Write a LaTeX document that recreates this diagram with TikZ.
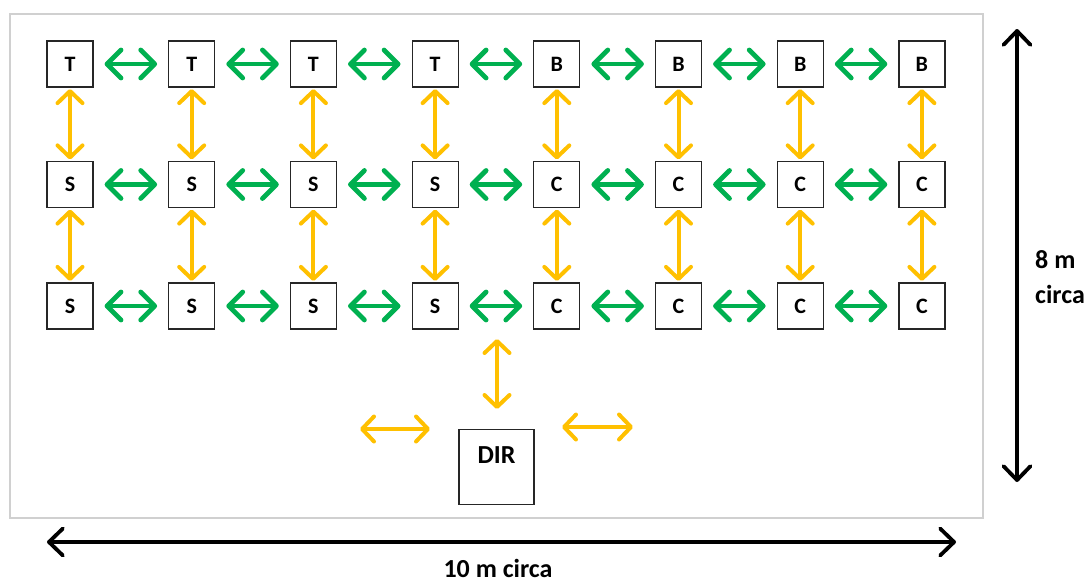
\documentclass[tikz,border=0pt]{standalone}
\usepackage{fontspec}
\setmainfont{Carlito}
\usetikzlibrary{arrows.meta}

\definecolor{linkgreen}{HTML}{00B050}
\definecolor{linkyellow}{HTML}{FFC000}
\definecolor{wallgray}{HTML}{D0D0D0}

\tikzset{
  gbarb/.tip={Straight Barb[length=14pt,width=28pt,round]},
  ybarb/.tip={Straight Barb[length=12pt,width=25pt,round]},
  kbarb/.tip={Straight Barb[length=14pt,width=27pt,round]},
  room/.style={draw=black!85, line width=1.2pt, minimum size=46pt, inner sep=0pt,
    font=\fontsize{22}{26}\selectfont\bfseries},
  bigtext/.style={font=\fontsize{26}{32}\selectfont\bfseries, inner sep=0pt},
  hlink/.style={linkgreen, line width=4.8pt, line cap=round, gbarb-gbarb,
    shorten <=11pt, shorten >=11pt},
  vlink/.style={linkyellow, line width=4pt, line cap=round, ybarb-ybarb,
    shorten <=1.5pt, shorten >=1.5pt},
  ylink/.style={linkyellow, line width=4pt, line cap=round, ybarb-ybarb},
  measure/.style={black, line width=3.8pt, line cap=round, kbarb-kbarb}
}

\begin{document}
\begin{tikzpicture}[x=1pt, y=-1pt]
  \useasboundingbox (0,0) rectangle (1089,582);
  % room outline
  \draw[wallgray, line width=2.5pt] (10,14) rectangle (983,518);

  % desks
  \foreach \lab [count=\i from 0] in {T,T,T,T,B,B,B,B}
    \node[room] (top\i) at (70+121.7*\i, 64) {\lab};
  \foreach \lab [count=\i from 0] in {S,S,S,S,C,C,C,C}
    \node[room] (mid\i) at (70+121.7*\i, 184.5) {\lab};
  \foreach \lab [count=\i from 0] in {S,S,S,S,C,C,C,C}
    \node[room] (bot\i) at (70+121.7*\i, 306) {\lab};

  % links
  \foreach \r in {top,mid,bot}
    \foreach \i/\j in {0/1,1/2,2/3,3/4,4/5,5/6,6/7}
      \draw[hlink] (\r\i) -- (\r\j);
  \foreach \i in {0,...,7} {
    \draw[vlink] (top\i) -- (mid\i);
    \draw[vlink] (mid\i) -- (bot\i);
  }

  % director
  \node[room, minimum size=75pt] (dir) at (496.5,467) {};
  \node[bigtext, anchor=base] (dirlab) at (496.5,463) {DIR};
  \coordinate (dirup) at (497,339);
  \coordinate (dirdown) at (497,409);
  \coordinate (dirwest1) at (360,429);
  \coordinate (dirwest2) at (430,429);
  \coordinate (direast1) at (562,427);
  \coordinate (direast2) at (633,427);
  \draw[ylink] (dirup) -- (dirdown);
  \draw[ylink] (dirwest1) -- (dirwest2);
  \draw[ylink] (direast1) -- (direast2);

  % sizes
  \coordinate (wleft) at (47,542);
  \coordinate (wright) at (956,542);
  \coordinate (htop) at (1017,29);
  \coordinate (hbottom) at (1017,482);
  \draw[measure] (wleft) -- (wright);
  \draw[measure] (htop) -- (hbottom);
  \node[bigtext, anchor=base, text depth=0pt] (wlab) at (498,577) {10 m circa};
  \node[bigtext, anchor=base west] (hlab1) at (1035,268) {8 m};
  \node[bigtext, anchor=base west] (hlab2) at (1035,303) {circa};
\end{tikzpicture}
\end{document}
